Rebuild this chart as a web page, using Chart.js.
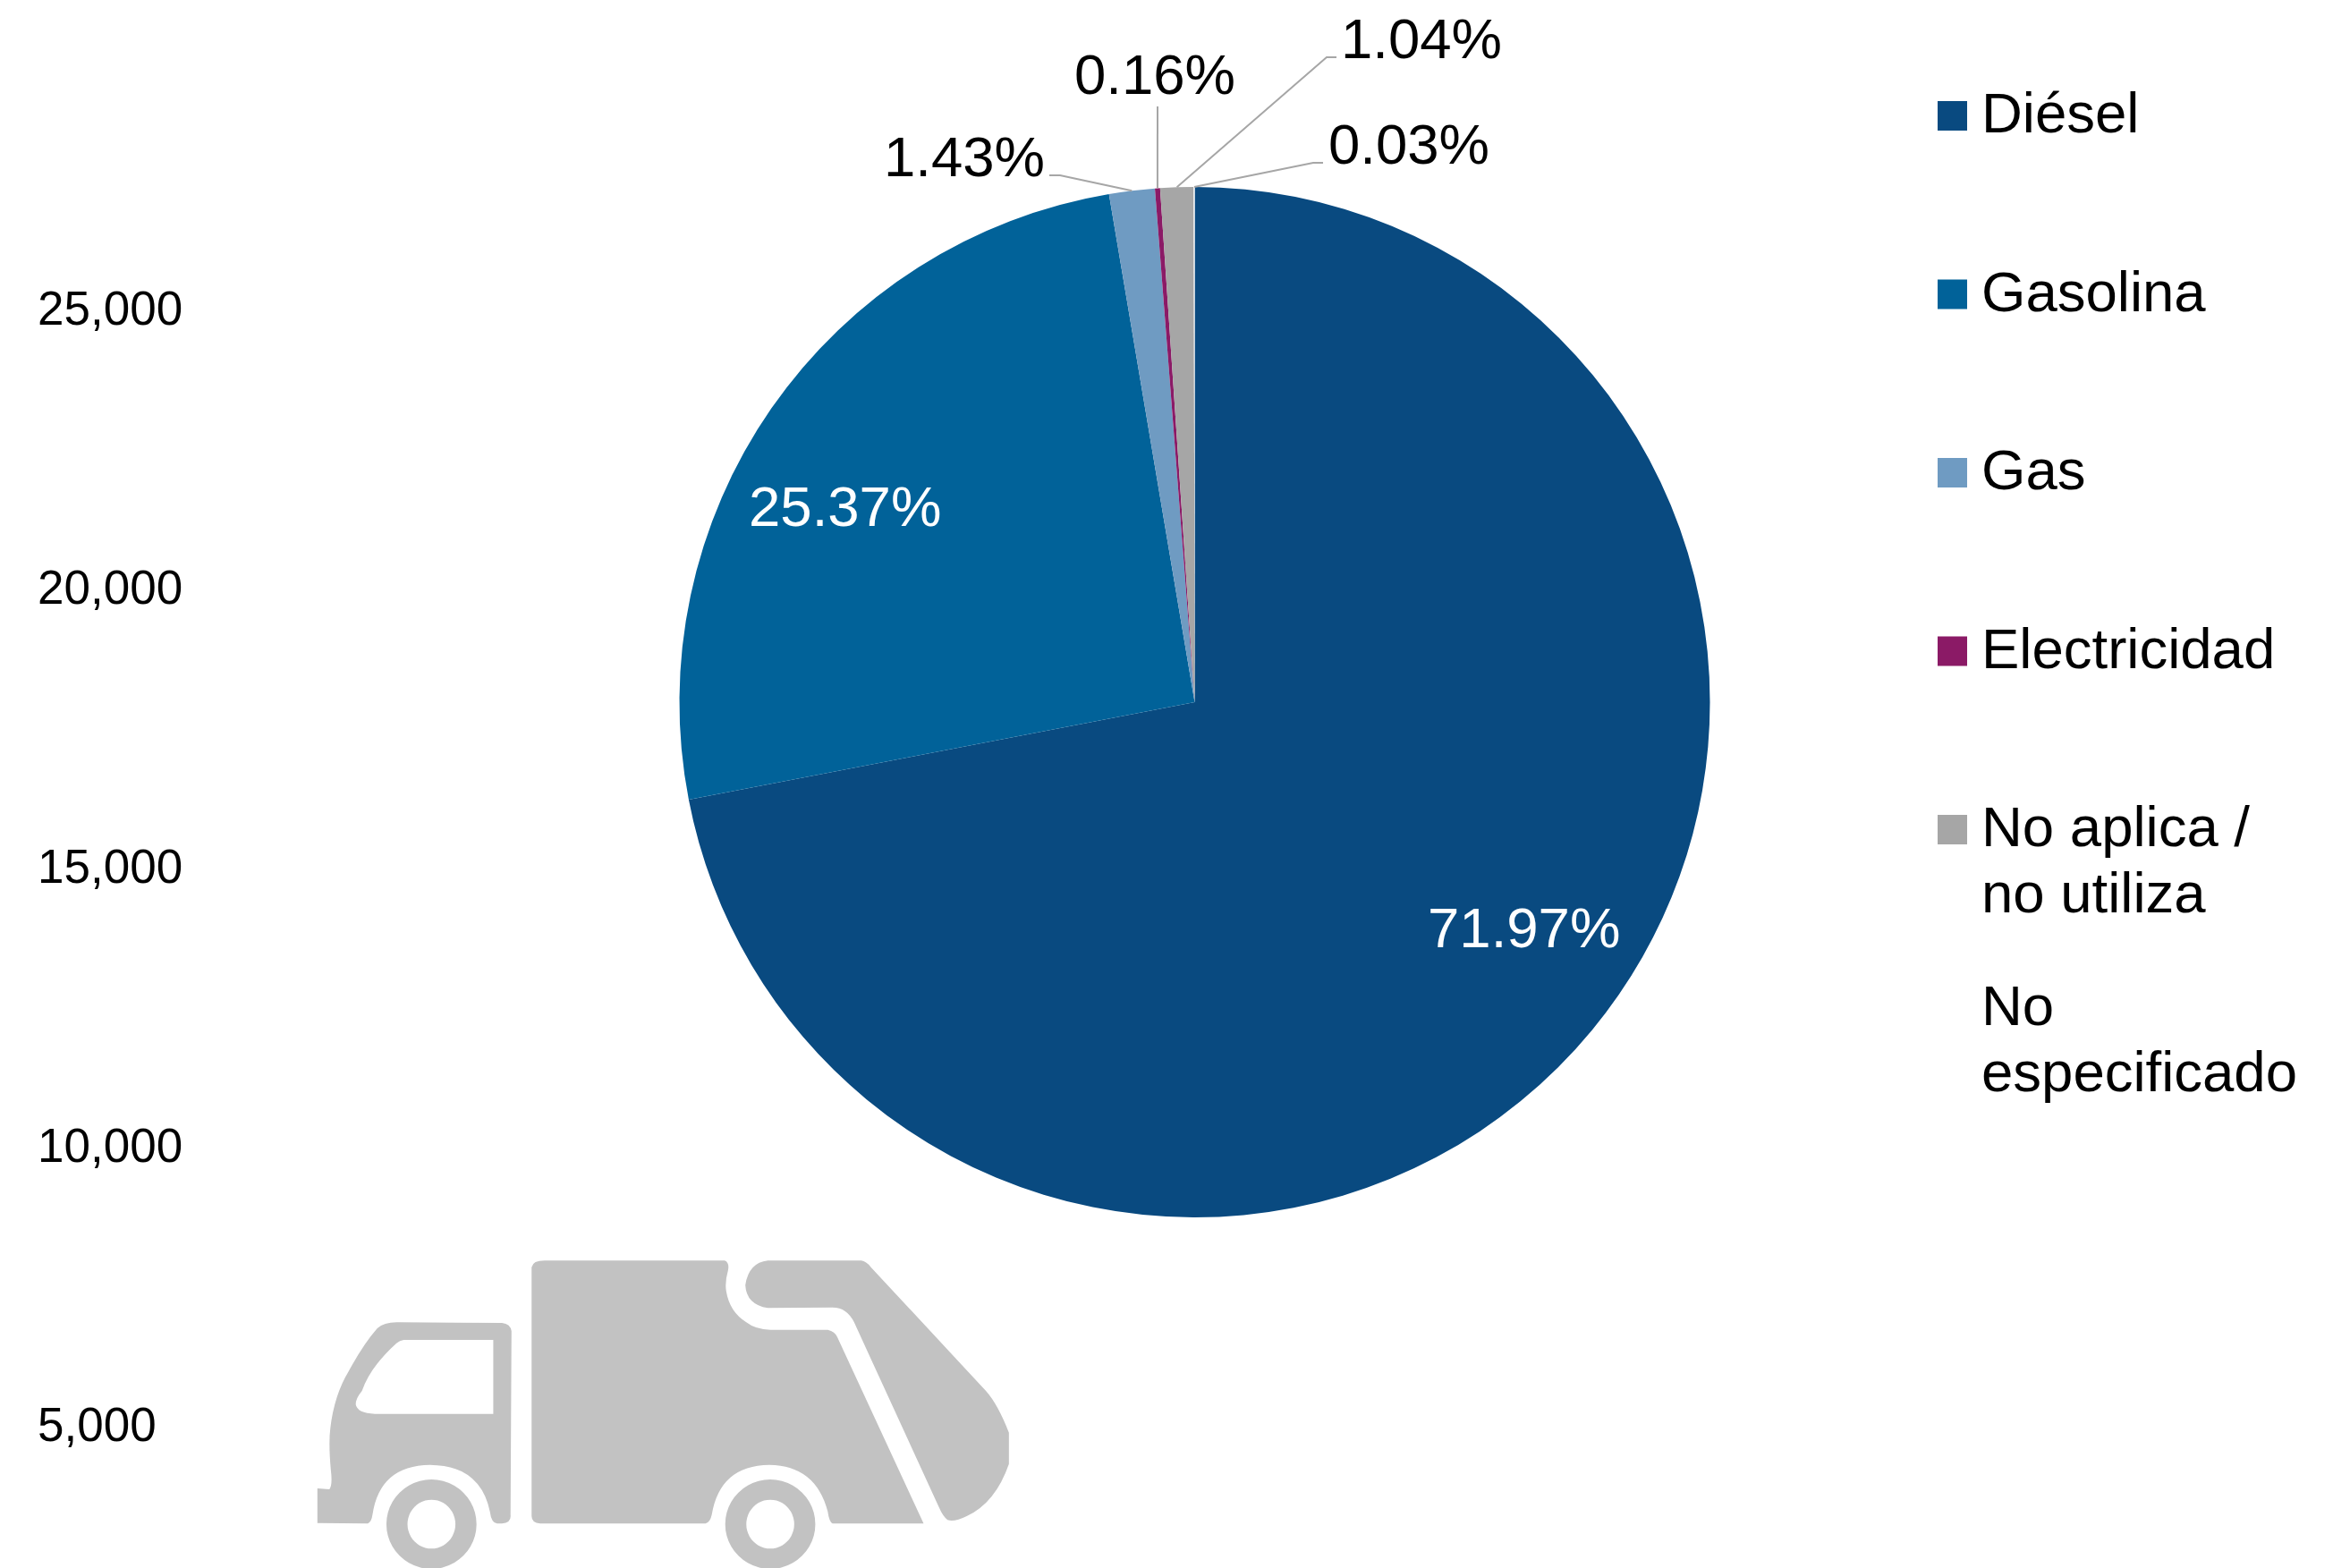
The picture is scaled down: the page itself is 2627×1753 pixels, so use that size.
<!DOCTYPE html>
<html lang="es">
<head>
<meta charset="utf-8">
<title>Combustible</title>
<script src="https://cdn.jsdelivr.net/npm/chart.js@4"></script>
<style>
html,body{margin:0;padding:0;background:#fff;width:2627px;height:1753px;overflow:hidden;position:relative}
#wrap{position:absolute;left:0;top:-200px;width:2627px;height:1970px}
#truck{position:absolute;left:0;top:0;width:2627px;height:1753px;pointer-events:none}
</style>
</head>
<body>
<svg id="truck" aria-hidden="true" viewBox="0 0 2627 1753">
<g transform="translate(320 1380) scale(.5357 .33333)" fill="#c2c2c2" fill-rule="evenodd">
<path d="M65 852 L90 855 Q97 840 93 790 Q88 700 92 650 Q100 540 130 460 Q160 370 190 315 Q205 293 235 295 L450 297 Q468 300 470 325 L468 940 Q470 968 450 970 L440 970 Q428 968 425 930 Q405 775 300 773 Q195 775 180 940 Q178 965 170 970 L65 968 Z M245 354 L432 354 L432 602 L185 602 Q148 600 145 570 Q145 550 158 525 Q175 445 230 365 Q237 356 245 354 Z"/>
<path d="M512 110 Q515 85 545 88 L915 88 Q925 95 922 120 Q915 160 918 190 Q925 260 960 295 Q980 320 1010 320 L1130 320 Q1145 325 1150 345 L1330 970 L1140 970 Q1133 965 1130 930 Q1105 775 1008 773 Q905 775 888 940 Q885 965 875 970 L530 970 Q512 968 512 945 Z"/>
<path d="M1005 88 L1200 88 Q1210 90 1220 110 L1460 525 Q1485 570 1508 665 L1508 770 Q1480 900 1420 945 Q1395 965 1380 958 Q1370 945 1362 915 L1185 295 Q1170 245 1140 245 L1005 247 Q960 235 958 170 Q965 95 1005 88 Z"/>
<path d="M303 822 A94 150 0 1 0 303.01 822 Z M303 890 A50 82 0 1 1 302.99 890 Z"/>
<path d="M1010 822 A94 150 0 1 0 1010.01 822 Z M1010 890 A50 82 0 1 1 1009.99 890 Z"/>
</g>
</svg>
<div id="wrap"><canvas id="c" width="2627" height="1970"></canvas></div>
<script>
const categories = ['Diésel','Gasolina','Gas','Electricidad','No aplica / no utiliza','No especificado'];
const shares = [71.97,25.37,1.43,0.16,1.04,0.03];
const yTicks = [5000,10000,15000,20000,25000];

const colors = ['#094A80','#016299','#6F9BC2','#8B1A66','#A6A6A6','#FFFFFF'];
const legendLines = [['Diésel'],['Gasolina'],['Gas'],['Electricidad'],['No aplica /','no utiliza'],['No','especificado']];
const FONT = '"Liberation Sans", Arial, sans-serif';
const TOP = 200; // page-to-canvas vertical offset

// label anchor per slice, page coordinates (baseline-left); elbow = leader bend
const labelLayout = [
  {x:1596,y:1059,color:'#fff'},
  {x:837,y:588,color:'#fff'},
  {x:988,y:197,color:'#000',elbow:[1185,196],end:[1173,196]},
  {x:1201,y:105,color:'#000',elbow:[1294,119]},
  {x:1499,y:65,color:'#000',elbow:[1483,64],end:[1494,64]},
  {x:1485,y:183,color:'#000',elbow:[1468,182],end:[1479,182]}
];

const annotate = {
  id:'annotate',
  afterDraw(chart){
    const ctx = chart.ctx, arcs = chart.getDatasetMeta(0).data;
    ctx.save();
    ctx.font = '63.5px '+FONT;
    ctx.textAlign='left'; ctx.textBaseline='alphabetic';
    arcs.forEach((arc,i)=>{
      const l = labelLayout[i];
      if(l.elbow){
        const mid=(arc.startAngle+arc.endAngle)/2;
        ctx.beginPath();
        ctx.moveTo(arc.x+Math.cos(mid)*arc.outerRadius, arc.y+Math.sin(mid)*arc.outerRadius);
        ctx.lineTo(l.elbow[0], l.elbow[1]+TOP);
        if(l.end) ctx.lineTo(l.end[0], l.end[1]+TOP);
        ctx.strokeStyle='#a6a6a6'; ctx.lineWidth=2; ctx.stroke();
      }
      ctx.fillStyle=l.color;
      ctx.fillText(shares[i].toFixed(2)+'%', l.x, l.y+TOP);
    });
    // legend
    legendLines.forEach((lines,i)=>{
      const base = 148+199.5*i+TOP;
      ctx.fillStyle=colors[i];
      ctx.fillRect(2166, base-35, 33, 33);
      ctx.fillStyle='#000';
      lines.forEach((t,j)=>ctx.fillText(t, 2215, base+74*j));
    });
    ctx.restore();
  }
};

new Chart(document.getElementById('c'),{
  type:'pie',
  data:{labels:categories,datasets:[{data:shares,backgroundColor:colors,borderWidth:0,radius:576}]},
  options:{
    responsive:false,animation:false,
    layout:{padding:{left:42,right:198,top:0,bottom:0}},
    plugins:{legend:{display:false},tooltip:{enabled:false},title:{display:false}},
    scales:{
      y:{
        type:'linear',position:'left',
        min:2768,max:33233,
        grid:{display:false},border:{display:false},
        afterBuildTicks(axis){axis.ticks=yTicks.map(v=>({value:v}));},
        afterFit(axis){axis.width=200;},
        ticks:{
          color:'#000',font:{family:FONT,size:53},crossAlign:'far',autoSkip:false,
          callback:v=>v.toLocaleString('en-US')
        }
      }
    }
  },
  plugins:[annotate]
});
</script>
</body>
</html>
